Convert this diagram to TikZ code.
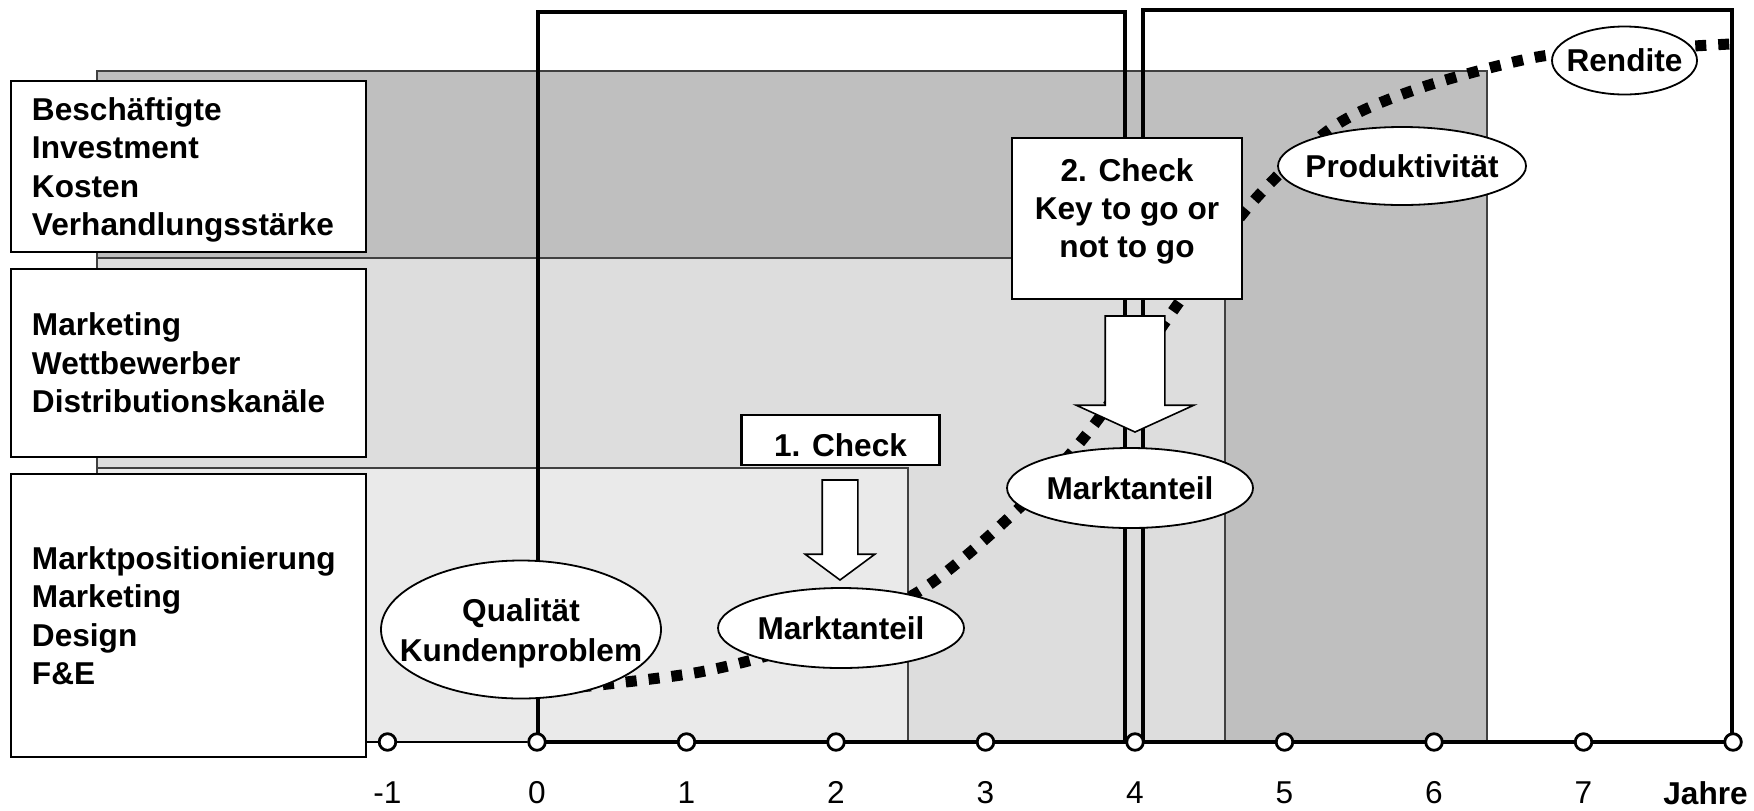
\documentclass[tikz,border=0pt]{standalone}
\usepackage{fontspec}
\setmainfont{Liberation Sans}
\usepackage{tikz}
\usetikzlibrary{shapes.geometric, shapes.arrows, positioning}

\definecolor{banddark}{HTML}{BFBFBF}
\definecolor{bandmid}{HTML}{DDDDDD}
\definecolor{bandlight}{HTML}{EAEAEA}

\begin{document}
\begin{tikzpicture}[x=0.5pt, y=-0.5pt, on grid, node distance=74.75pt,
    font=\fontsize{15.8pt}{19.2pt}\selectfont\bfseries,
    band/.style={draw=black!75, line width=0.9pt},
    phase/.style={draw, line width=2.2pt},
    tick/.style={circle, draw, fill=white, line width=1.4pt, minimum size=8.3pt, inner sep=0pt},
    year/.style={inner sep=0pt, font=\fontsize{15.8pt}{19pt}\selectfont\mdseries},
    labelbox/.style={rectangle, draw, fill=white, line width=1.2pt, minimum width=177.5pt,
                     text width=156.5pt, inner xsep=10.5pt, align=left},
    checkbox/.style={rectangle, draw, fill=white, line width=1.2pt, align=center},
    oval/.style={ellipse, draw, fill=white, line width=0.9pt, inner sep=0pt},
    bigarrow/.style={single arrow, draw, fill=white, line width=0.8pt, rotate=-90,
                     single arrow head indent=0pt, outer sep=0pt, anchor=tip},
    curve/.style={line width=5.5pt, dash pattern=on 5.5pt off 6pt}]
      \useasboundingbox (0,0) rectangle (1754,810);

      % stufen im hintergrund
      \filldraw[band, fill=banddark]  (97,71)  rectangle (1487,742);
      \filldraw[band, fill=bandmid]   (97,258) rectangle (1225,742);
      \filldraw[band, fill=bandlight] (97,468) rectangle (908,742);
      \draw[phase] (538,12)  rectangle (1125,742);
      \draw[phase] (1143,10) rectangle (1732,742);

      \node[labelbox, minimum height=85.5pt]  (b_1) at (188.5,166.5) {Beschäftigte\\Investment\\Kosten\\\smash{Verhandlungsstärke}};
      \node[labelbox, minimum height=94pt]    (b_2) at (188.5,363)   {Marketing\\Wettbewerber\\Distributionskanäle};
      \node[labelbox, minimum height=141.5pt] (b_3) at (188.5,615.5) {Marktpositionierung\\Marketing\\Design\\F\&E};

      % zeitachse
      \node[tick] (t_m1) at (387.5,742) {};
      \node[tick] (t_0) [right of=t_m1] {};
      \node[tick] (t_1) [right of=t_0]  {};
      \node[tick] (t_2) [right of=t_1]  {};
      \node[tick] (t_3) [right of=t_2]  {};
      \node[tick] (t_4) [right of=t_3]  {};
      \node[tick] (t_5) [right of=t_4]  {};
      \node[tick] (t_6) [right of=t_5]  {};
      \node[tick] (t_7) [right of=t_6]  {};
      \node[tick] (t_8) [right of=t_7]  {};
      \path[line width=1.3pt]
        (b_3.east |- t_m1) edge (t_m1)
        (t_m1)             edge (t_0);
      \path[line width=2.2pt]
        (t_0) edge (t_1)
        (t_1) edge (t_2)
        (t_2) edge (t_3)
        (t_3) edge (t_4)
        (t_4) edge (t_5)
        (t_5) edge (t_6)
        (t_6) edge (t_7)
        (t_7) edge (t_8);
      \node[year] (y_m1) [below=25.3pt of t_m1] {-1};
      \node[year] (y_0)  [below=25.3pt of t_0]  {0};
      \node[year] (y_1)  [below=25.3pt of t_1]  {1};
      \node[year] (y_2)  [below=25.3pt of t_2]  {2};
      \node[year] (y_3)  [below=25.3pt of t_3]  {3};
      \node[year] (y_4)  [below=25.3pt of t_4]  {4};
      \node[year] (y_5)  [below=25.3pt of t_5]  {5};
      \node[year] (y_6)  [below=25.3pt of t_6]  {6};
      \node[year] (y_7)  [below=25.3pt of t_7]  {7};
      \node[inner sep=0pt, anchor=base west] (jahre) at (1663,804) {Jahre};

      % s-kurve
      \draw[curve] plot[smooth] coordinates {(580,687) (700,672) (800,645) (918,592) (1015,512)
        (1090,430) (1175,308) (1250,205) (1333,127) (1420,88) (1537,57) (1625,50) (1730,44)};

      \node[bigarrow, minimum height=50pt, minimum width=34pt, inner sep=8.5pt,
            single arrow head extend=8.5pt, single arrow tip angle=107] (a_1) at (840,580) {};
      \node[bigarrow, minimum height=58pt, minimum width=58pt, inner sep=14.5pt,
            single arrow head extend=14.5pt, single arrow tip angle=131] (a_2) at (1135,432) {};

      \node[checkbox, minimum width=99pt, minimum height=25pt] (c_1) at (840.5,440) {1. Check\rule{0pt}{16.5pt}};
      \node[checkbox, minimum width=115pt, inner ysep=10pt, anchor=north] (c_2) at (1127,137)
        {2. Check\\Key to go or\\not to go\rule[-10.5pt]{0pt}{10.5pt}};

      \node[oval, minimum width=140pt, minimum height=69pt] (q)   at (521,629.5)
        {\makebox[0pt]{\begin{tabular}{@{}c@{}}Qualität\rule{0pt}{17.5pt}\\[1pt]Kundenproblem\end{tabular}}};
      \node[oval, minimum width=123pt, minimum height=40pt] (m_1) at (841,628)    {Marktanteil};
      \node[oval, minimum width=123pt, minimum height=40pt] (m_2) at (1130,488)   {Marktanteil};
      \node[oval, minimum width=124pt, minimum height=39pt] (p)   at (1402,166)   {\makebox[0pt]{Produktivität}};
      \node[oval, minimum width=72.5pt, minimum height=34pt] (r)  at (1624.5,60.5) {\makebox[0pt]{Rendite}};
    \end{tikzpicture}
\end{document}
